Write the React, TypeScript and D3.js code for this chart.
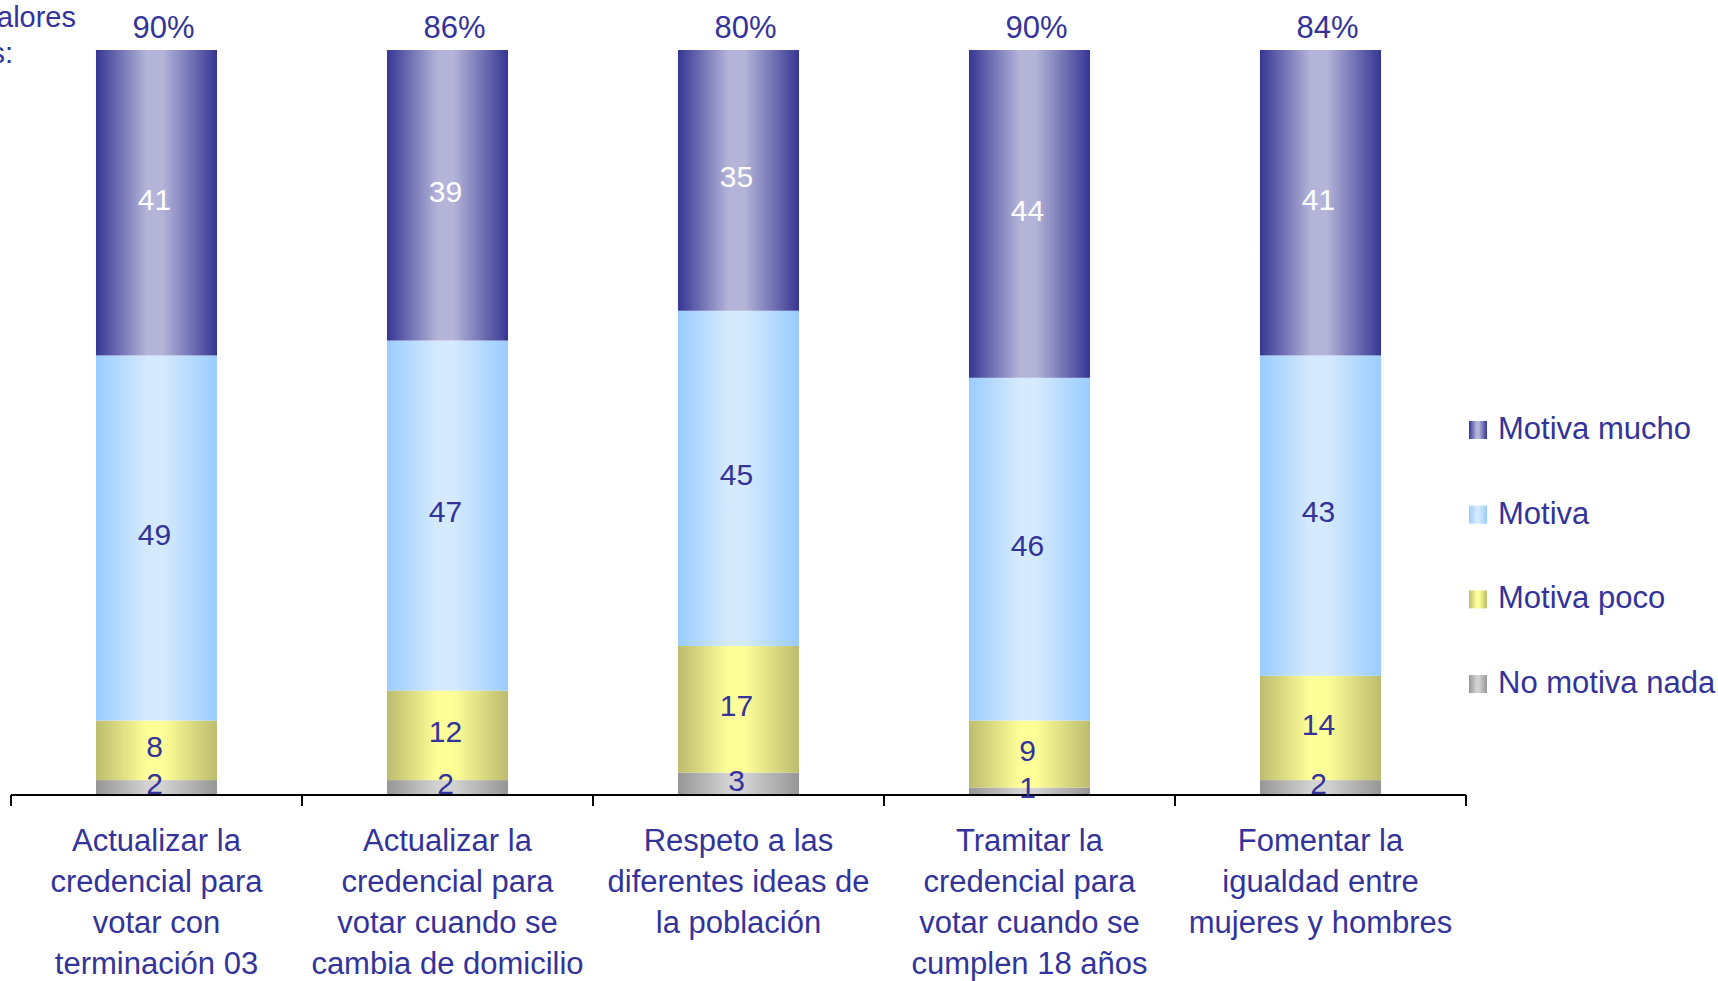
import React from "react";
import * as d3 from "d3";

const categories: string[][] = [
  ["Actualizar la", "credencial para", "votar con", "terminación 03"],
  ["Actualizar la", "credencial para", "votar cuando se", "cambia de domicilio"],
  ["Respeto a las", "diferentes ideas de", "la población"],
  ["Tramitar la", "credencial para", "votar cuando se", "cumplen 18 años"],
  ["Fomentar la", "igualdad entre", "mujeres y hombres"],
];
const catKeys = ["c1", "c2", "c3", "c4", "c5"];

const noMotivaNada = [2, 2, 3, 1, 2];
const motivaPoco = [8, 12, 17, 9, 14];
const motiva = [49, 47, 45, 46, 43];
const motivaMucho = [41, 39, 35, 44, 41];
const totalLabels = ["90%", "86%", "80%", "90%", "84%"];

const seriesNames = ["No motiva nada", "Motiva poco", "Motiva", "Motiva mucho"];
const seriesValues = [noMotivaNada, motivaPoco, motiva, motivaMucho];
const legendOrder = ["Motiva mucho", "Motiva", "Motiva poco", "No motiva nada"];

const gradients: Record<string, [string, string]> = {
  "Motiva mucho": ["#363694", "#b4b4d9"],
  "Motiva": ["#99ccff", "#d6eafd"],
  "Motiva poco": ["#bcbc6e", "#ffff99"],
  "No motiva nada": ["#969696", "#d2d2d2"],
};
const gradId = (n: string) => "g" + n.replace(/\s+/g, "");

const TEXT = "#333399";
const FONT = "'Liberation Sans', Arial, sans-serif";

export default function App() {
  const W = 1718, H = 981;
  const x = d3.scaleBand<string>().domain(catKeys).range([11, 1466]).padding(0);
  const y = d3.scaleLinear().domain([0, 100]).range([795, 50]);
  const barFrac = 0.416;
  const bw = x.bandwidth() * barFrac;

  const rows = catKeys.map((k, i) => {
    const o: Record<string, number | string> = { key: k };
    seriesNames.forEach((s, j) => (o[s] = seriesValues[j][i]));
    return o;
  });
  const stack = d3.stack<Record<string, number | string>>().keys(seriesNames)(rows as any);

  const ticks = [...catKeys.map((k) => x(k)!), 1466];

  return (
    <svg width={W} height={H} style={{ position: "absolute", left: 0, top: 0 }} fontFamily={FONT}>
      <defs>
        {Object.entries(gradients).map(([n, [dark, light]]) => (
          <linearGradient key={n} id={gradId(n)} x1="0" x2="1" y1="0" y2="0">
            <stop offset="0" stopColor={dark} />
            <stop offset="0.42" stopColor={light} />
            <stop offset="0.55" stopColor={light} />
            <stop offset="1" stopColor={dark} />
          </linearGradient>
        ))}
      </defs>
      <rect x={0} y={0} width={W} height={H} fill="#ffffff" />

      <text x={76} y={27} fontSize={29} fill={TEXT} textAnchor="end">Valores</text>
      <text x={13} y={63} fontSize={29} fill={TEXT} textAnchor="end">porcentajes:</text>

      {stack.map((layer) => (
        <g key={layer.key}>
          {layer.map((d, i) => {
            const cx = x(catKeys[i])! + x.bandwidth() / 2;
            const y0 = y(d[0]);
            const y1 = y(d[1]);
            return (
              <rect key={i} x={cx - bw / 2} y={y1} width={bw} height={y0 - y1} fill={`url(#${gradId(layer.key)})`} />
            );
          })}
        </g>
      ))}

      <line x1={11} x2={1466} y1={y(0)} y2={y(0)} stroke="#000" strokeWidth={2} />
      {ticks.map((t, i) => (
        <line key={i} x1={t} x2={t} y1={y(0)} y2={y(0) + 11} stroke="#000" strokeWidth={2} />
      ))}

      {stack.map((layer) => (
        <g key={layer.key + "l"}>
          {layer.map((d, i) => {
            const cx = x(catKeys[i])! + x.bandwidth() / 2;
            const y0 = y(d[0]);
            const y1 = y(d[1]);
            const v = d[1] - d[0];
            return (
              <text
                key={i}
                x={cx - 2}
                y={(y0 + y1) / 2 - 4}
                dy="0.36em"
                fontSize={30}
                textAnchor="middle"
                fill={layer.key === "Motiva mucho" ? "#ffffff" : TEXT}
              >
                {v}
              </text>
            );
          })}
        </g>
      ))}

      {catKeys.map((k, i) => (
        <text key={k} x={x(k)! + x.bandwidth() / 2 + 7} y={38} fontSize={31} fill={TEXT} textAnchor="middle">
          {totalLabels[i]}
        </text>
      ))}

      {catKeys.map((k, i) => (
        <text key={k} fontSize={31} fill={TEXT} textAnchor="middle">
          {categories[i].map((line, j) => (
            <tspan key={j} x={x(k)! + x.bandwidth() / 2} y={851 + j * 41}>
              {line}
            </tspan>
          ))}
        </text>
      ))}

      {legendOrder.map((n, i) => (
        <g key={n}>
          <rect x={1469} y={421 + i * 84.7} width={18} height={18} fill={`url(#${gradId(n)})`} />
          <text x={1498} y={439 + i * 84.5} fontSize={31} fill={TEXT}>
            {n}
          </text>
        </g>
      ))}
    </svg>
  );
}
